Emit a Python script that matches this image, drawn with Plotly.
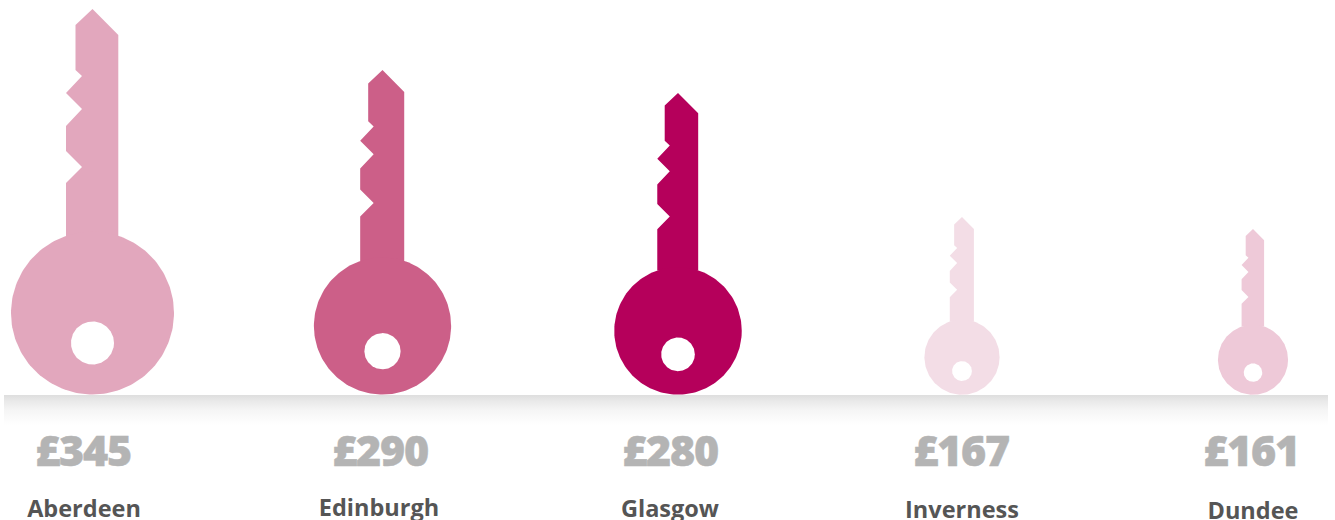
import math
import plotly.graph_objects as go

# ---- data ----
cities = ["Aberdeen", "Edinburgh", "Glasgow", "Inverness", "Dundee"]
rents = [345, 290, 280, 167, 161]
key_heights = [386, 325, 302, 178, 166]  # drawn height of each key, px units

# ---- layout / style ----
colors = ["#e2a7bd", "#cc5f88", "#b5005b", "#f3dde6", "#eec9d8"]
key_x = [92.5, 382.5, 678, 962, 1253]
value_x = [83, 380, 670, 961, 1251]
label_x = [84, 379, 670, 962, 1253]
label_y = [-116, -115, -116, -117, -118]
value_y = -60
W, H, BASE = 1335, 520, 395

# key silhouette: unit glyph, bottom of the head at v=0, tip at v=1
blade = [(0, 386), (25.8, 360), (25.8, 159), (-26.5, 159), (-26.5, 212), (-10.5, 228), (-26.5, 244),
         (-26.5, 269), (-10.5, 286), (-26.5, 302), (-10.5, 319), (-17, 325), (-17, 370)]
HEAD_R, HEAD_V = 81.5, 82
HOLE_R, HOLE_V = 21.5, 52
REF = 386.0


def circle(cx, cy, r, n=180):
    xs = [cx + r * math.cos(2 * math.pi * i / n) for i in range(n + 1)]
    ys = [cy + r * math.sin(2 * math.pi * i / n) for i in range(n + 1)]
    return xs, ys


fig = go.Figure()

# soft shadow under the baseline
fig.add_trace(go.Scatter(
    x=[4, 1328, 1328, 4, 4], y=[0, 0, -30, -30, 0], mode="lines", line=dict(width=0),
    fill="toself",
    fillgradient=dict(type="vertical", colorscale=[[0, "#ffffff"], [0.5, "#f5f5f5"], [0.8, "#e9e9e9"], [1, "#dedede"]]),
    hoverinfo="skip", showlegend=False,
))

for name, rent, h, c, cx in zip(cities, rents, key_heights, colors, key_x):
    s = h / REF
    bx = [cx + p[0] * s for p in blade] + [cx]
    by = [p[1] * s for p in blade] + [386 * s]
    hx, hy = circle(cx, HEAD_V * s, HEAD_R * s)
    ox, oy = circle(cx, HOLE_V * s, HOLE_R * s)
    for xs, ys, col in ((bx, by, c), (hx, hy, c), (ox, oy, "#ffffff")):
        fig.add_trace(go.Scatter(
            x=xs, y=ys, mode="lines", line=dict(width=0), fill="toself", fillcolor=col,
            name=name, text=f"{name}: £{rent}", hoverinfo="text", showlegend=False,
        ))

fig.add_trace(go.Scatter(
    x=value_x, y=[value_y] * 5, mode="text", text=[f"£{v}" for v in rents],
    textposition="middle center", hoverinfo="skip", showlegend=False,
    textfont=dict(family="Open Sans", size=43, color="#b4b4b4", weight=800),
))
fig.add_trace(go.Scatter(
    x=label_x, y=label_y, mode="text", text=cities,
    textposition="middle center", hoverinfo="skip", showlegend=False,
    textfont=dict(family="Open Sans", size=23.5, color="#555555", weight=700),
))

fig.update_layout(
    width=W, height=H, margin=dict(l=0, r=0, t=0, b=0),
    paper_bgcolor="#ffffff", plot_bgcolor="#ffffff",
    xaxis=dict(range=[0, W], visible=False, fixedrange=True),
    yaxis=dict(range=[BASE - H, BASE], visible=False, fixedrange=True),
)
post = ('document.body.style.margin="0";'
        'document.querySelectorAll("text").forEach(function(t){'
        'if(t.textContent.charAt(0)==="£"){t.style.letterSpacing="-1.3px";'
        't.style.stroke="#b4b4b4";t.style.strokeWidth="0.5px";}});')
fig.write_html("out.html", post_script=post, config=dict(displayModeBar=False))
